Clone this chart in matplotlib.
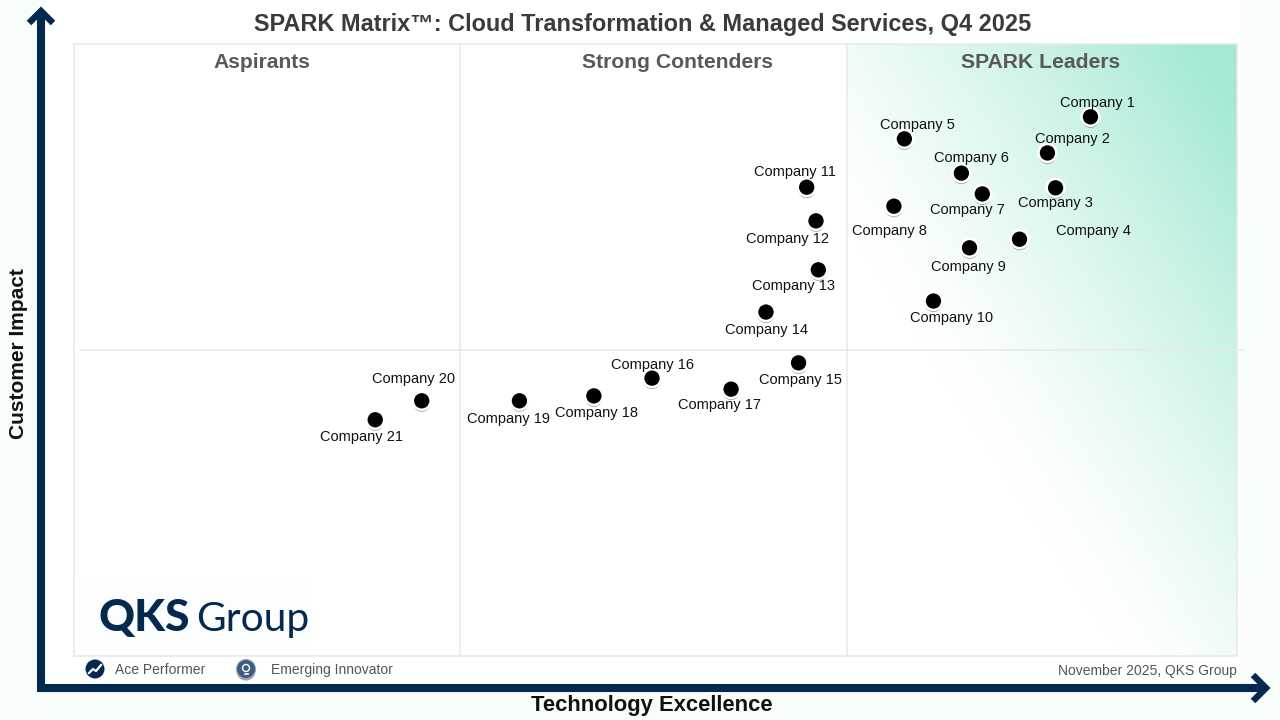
#!/usr/bin/python3

import numpy as np
import matplotlib
matplotlib.use('Agg')
import matplotlib.pyplot as plt
import matplotlib.patheffects as pe
from matplotlib.patches import Circle, Rectangle

# chart values, both scales run 0 to 100
companies = ['Company %d' % i for i in range(1, 22)]
technology = [87.4, 83.7, 84.4, 81.3, 71.4, 76.3, 78.1, 70.5, 77.0, 73.9, 63.0,
	63.8, 64.0, 59.5, 62.3, 49.7, 56.5, 44.7, 38.3, 29.9, 25.9]
impact = [88.1, 82.2, 76.5, 68.1, 84.5, 78.9, 75.5, 73.5, 66.7, 58.0, 76.6,
	71.1, 63.1, 56.2, 47.9, 45.4, 43.6, 42.5, 41.7, 41.7, 38.6]

zones = ['Aspirants', 'Strong Contenders', 'SPARK Leaders']
zone_edges = [33.2, 66.5]
legend_names = ['Ace Performer', 'Emerging Innovator']

title = 'SPARK Matrix\u2122: Cloud Transformation & Managed Services, Q4 2025'
x_label = 'Technology Excellence'
y_label = 'Customer Impact'
footnote = 'November 2025, QKS Group'

# label placement around each point, in pixels (right, down)
label_dx = [7, 25, 0, 74, 13, 10, -15, -4, -1, 18, -12, -28, -25, 1, 2, 0, -12, 3, -11, -8, -14]
label_dy = [-14, -14, 15, -8, -14, -15, 16, 25, 19, 17, -15, 18, 16, 18, 17, -13, 16, 17, 18, -22, 17]

NAVY = '#04294f'
GRID = '#e8e8e8'
SANS = 'Liberation Sans'


def leader_gradient():
	'''white to teal wash used behind the leaders column'''
	u, v = np.meshgrid(np.linspace(0, 1, 300), np.linspace(0, 1, 400))
	t = np.clip(0.85 * u + 0.85 * v - 0.6, 0, 1)[..., None] ** 1.3
	white = np.array([1.0, 1.0, 1.0])
	teal = np.array([0xa5, 0xe9, 0xd6]) / 255
	return white + (teal - white) * t


def main():
	'''main loop'''

	plt.rcParams['font.family'] = SANS
	fig = plt.figure(figsize=(12.8, 7.2), dpi=100, facecolor='#f8fcfb')

	# overlay in pixels for the decoration round the plot
	deco = fig.add_axes([0, 0, 1, 1], zorder=0)
	deco.set_xlim(0, 1280)
	deco.set_ylim(720, 0)
	deco.axis('off')
	deco.add_patch(Rectangle((46, 0), 1194, 684, color='white', lw=0))

	# the matrix itself
	ax = fig.add_axes([74 / 1280, 1 - 656 / 720, 1163 / 1280, 612 / 720], zorder=1)
	ax.set_xticks([])
	ax.set_yticks([])
	ax.patch.set_alpha(0)
	for spine in ax.spines.values():
		spine.set_color(GRID)
		spine.set_linewidth(1.1)

	ax.imshow(leader_gradient(), extent=[zone_edges[1], 100, 0, 100], origin='lower',
		aspect='auto', zorder=0, interpolation='bilinear')
	ax.set_xlim(0, 100)
	ax.set_ylim(0, 100)

	for edge in zone_edges:
		ax.axvline(edge, color=GRID, lw=1.1, zorder=1)
	ax.plot([0.5, 100.5], [50, 50], color=GRID, lw=1.1, zorder=1, clip_on=False)

	centres = [16.2, 51.9, 83.1]
	for name, centre in zip(zones, centres):
		ax.text(centre, 97, name, ha='center', va='center', fontsize=15.2,
			fontweight='bold', color='#595959')

	# points, white rim and a soft shadow below
	ax.scatter(technology, impact, s=165, color='black', edgecolors='white', linewidths=1.8,
		zorder=3, path_effects=[pe.withSimplePatchShadow(offset=(0, -1.5), shadow_rgbFace='#666666', alpha=0.6)])

	for i, name in enumerate(companies):
		ax.annotate(name, (technology[i], impact[i]), xytext=(label_dx[i] * 0.72, -label_dy[i] * 0.72),
			textcoords='offset points', ha='center', va='center', fontsize=10.5, color='#111111', zorder=4)

	# logo as plain text
	ax.add_patch(Rectangle((0.4, 2.5), 20, 9.5, color='#fcfefe', lw=0, zorder=1))
	deco2 = fig.add_axes([0, 0, 1, 1], zorder=2)
	deco2.set_xlim(0, 1280)
	deco2.set_ylim(720, 0)
	deco2.axis('off')
	deco2.text(98, 631, 'QKS', fontsize=32, fontweight='black', color=NAVY, family='Lato',
		ha='left', va='baseline')
	deco2.text(196, 631, 'Group', fontsize=29.3, color=NAVY, family='Lato', fontweight='normal',
		ha='left', va='baseline')

	# title and axis names
	deco2.text(642.5, 24, title, fontsize=16.9, fontweight='bold', color='#3b3b3b', ha='center', va='center')
	deco2.text(652, 706, x_label, fontsize=15.8, fontweight='bold', color='#111111', ha='center', va='center')
	deco2.text(19, 354, y_label, fontsize=15, fontweight='bold', color='#111111', rotation=90, ha='center', va='center')
	deco2.text(1237, 671, footnote, fontsize=10, color='#555555', ha='right', va='center')

	# axis arrows, shaft and open chevron head
	shaft = dict(color=NAVY, lw=5.8, solid_capstyle='butt')
	head = dict(color=NAVY, lw=4.6, solid_capstyle='butt', solid_joinstyle='miter')
	deco2.plot([41, 41], [692, 12], **shaft)
	deco2.plot([29, 41, 53], [23, 11, 23], **head)
	deco2.plot([37, 1264], [688, 688], **shaft)
	deco2.plot([1253, 1266, 1253], [675, 688, 701], **head)

	# legend with its two small icons
	deco2.add_patch(Circle((95, 669), 9.5, color=NAVY, lw=0))
	deco2.plot([89, 93, 96, 101], [673, 669, 671, 665], color='white', lw=1.6)
	deco2.add_patch(Circle((246, 669), 9.5, color='#3d5a80', ec='#9aa8b8', lw=0.8,
		path_effects=[pe.withSimplePatchShadow(offset=(0, -1.5), alpha=0.4)]))
	deco2.add_patch(Circle((246, 668), 3.5, fc='none', ec='white', lw=1))
	deco2.plot([244.5, 247.5], [674, 674], color='white', lw=1.2)
	deco2.text(115, 670, legend_names[0], fontsize=10, color='#555555', ha='left', va='center')
	deco2.text(271, 670, legend_names[1], fontsize=10, color='#555555', ha='left', va='center')

	deco2.set_xlim(0, 1280)
	deco2.set_ylim(720, 0)
	fig.savefig('out.png', dpi=100, facecolor=fig.get_facecolor())


if __name__ == '__main__':
	main()
